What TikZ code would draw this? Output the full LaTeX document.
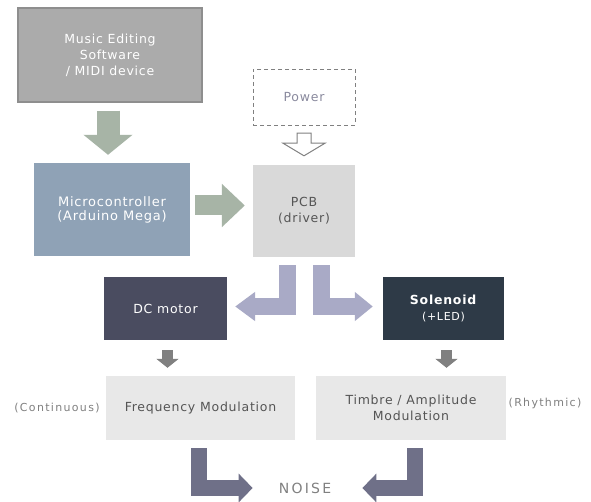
\documentclass[tikz,border=0pt]{standalone}
\usepackage{fontspec}
\setmainfont{DejaVu Sans}[LetterSpace=6]
\newfontfamily\widefont{DejaVu Sans}[LetterSpace=12]
\newfontfamily\noisefont{DejaVu Sans}[LetterSpace=16]
\usetikzlibrary{arrows.meta,calc}
\definecolor{srcgray}{HTML}{ABABAB}
\definecolor{srcedge}{HTML}{8E8E8E}
\definecolor{mcublue}{HTML}{8FA2B6}
\definecolor{pcbgray}{HTML}{D9D9D9}
\definecolor{motorslate}{HTML}{4A4C60}
\definecolor{solslate}{HTML}{2E3A47}
\definecolor{modgray}{HTML}{E8E8E8}
\definecolor{feedgreen}{HTML}{A7B4A6}
\definecolor{drivelav}{HTML}{A9AAC6}
\definecolor{outslate}{HTML}{6F7088}
\definecolor{textgray}{HTML}{555555}
\definecolor{powertext}{HTML}{8A8A9E}

\begin{document}
\begin{tikzpicture}[x=1pt,y=-1pt,
    box/.style={rectangle, inner sep=0pt, align=center, font=\fontsize{12.5}{16}\selectfont},
    note/.style={inner sep=0pt, text=gray, font=\widefont\fontsize{11}{13}\selectfont}]
    \fill[white] (0,0) rectangle (591,502);
    \useasboundingbox (0,0) rectangle (591,502);
    % blocks
    \node[box, fill=srcgray, draw=srcedge, line width=1.5pt, text=white,
          minimum width=184pt, minimum height=94pt] (music) at (110,55)
          {Music Editing\\Software\\/ MIDI device};
    \node[box, fill=mcublue, text=white, minimum width=156pt, minimum height=93pt,
          font=\fontsize{13}{14}\selectfont] (mcu) at (112,209.5)
          {Microcontroller\\(Arduino Mega)};
    \node[box, draw=gray, dashed, dash pattern=on 4pt off 3pt, text=powertext,
          minimum width=102pt, minimum height=56pt] (power) at (304,97) {Power};
    \node[box, fill=pcbgray, text=textgray, minimum width=102pt, minimum height=92pt]
          (pcb) at (304,211) {PCB\\(driver)};
    \node[box, fill=motorslate, text=white, minimum width=123pt, minimum height=63pt]
          (dc) at (165.5,308.5) {DC motor};
    \node[box, fill=solslate, text=white, minimum width=121pt, minimum height=63pt]
          (sol) at (443.5,308.5) {\textbf{Solenoid}\\{\fontsize{11}{14}\selectfont(+LED)}};
    \node[box, fill=modgray, text=textgray, minimum width=189pt, minimum height=64pt]
          (fm) at (200.5,408) {Frequency Modulation};
    \node[box, fill=modgray, text=textgray, minimum width=190pt, minimum height=64pt]
          (tam) at (411,408) {Timbre / Amplitude\\Modulation};
    \node[note] (cont) at (57,408) {(Continuous)};
    \node[note] (rhy) at (545,403) {(Rhythmic)};
    \node[inner sep=0pt, text=gray, font=\noisefont\fontsize{14}{16}\selectfont]
          (noise) at (305,488) {NOISE};
    % block arrows
    \draw[feedgreen, line width=23pt, -{Triangle[width=48pt,length=20pt]}]
        ($(music.south)+(-2,8)$) -- ($(mcu.north)+(-4,-8)$);
    \draw[feedgreen, line width=20pt, -{Triangle[width=42pt,length=23pt]}]
        ($(mcu.east)+(5,-4)$) -- ($(pcb.west |- mcu.east)+(-8,-4)$);
    \draw[gray, fill=white, line width=1pt]
        ($(power.south)+(-7,8)$) -- ($(power.south)+(7,8)$) -- ($(power.south)+(7,18)$)
        -- ($(power.south)+(21,18)$) -- ($(pcb.north)+(0,-9)$) -- ($(power.south)+(-21,18)$)
        -- ($(power.south)+(-7,18)$) -- cycle;
    \draw[drivelav, line width=17pt, -{Triangle[width=28pt,length=20pt]}]
        ($(pcb.south)+(-17,8)$) |- ($(dc.east)+(8,-2)$);
    \draw[drivelav, line width=17pt, -{Triangle[width=28pt,length=18pt]}]
        ($(pcb.south)+(17,8)$) |- ($(sol.west)+(-10,-2)$);
    \draw[gray, line width=11pt, -{Triangle[width=22pt,length=9pt]}]
        ($(dc.south)+(2,10)$) -- ($(dc.south |- fm.north)+(2,-8)$);
    \draw[gray, line width=11pt, -{Triangle[width=22pt,length=9pt]}]
        ($(sol.south)+(3,10)$) -- ($(sol.south |- tam.north)+(3,-8)$);
    \draw[outslate, line width=16pt, -{Triangle[width=28pt,length=14pt]}]
        ($(fm.south)+(-2,8)$) |- ($(noise.west)+(-26,0)$);
    \draw[outslate, line width=16pt, -{Triangle[width=28pt,length=14pt]}]
        ($(tam.south)+(4,8)$) |- ($(noise.east)+(31,0)$);
\end{tikzpicture}
\end{document}
